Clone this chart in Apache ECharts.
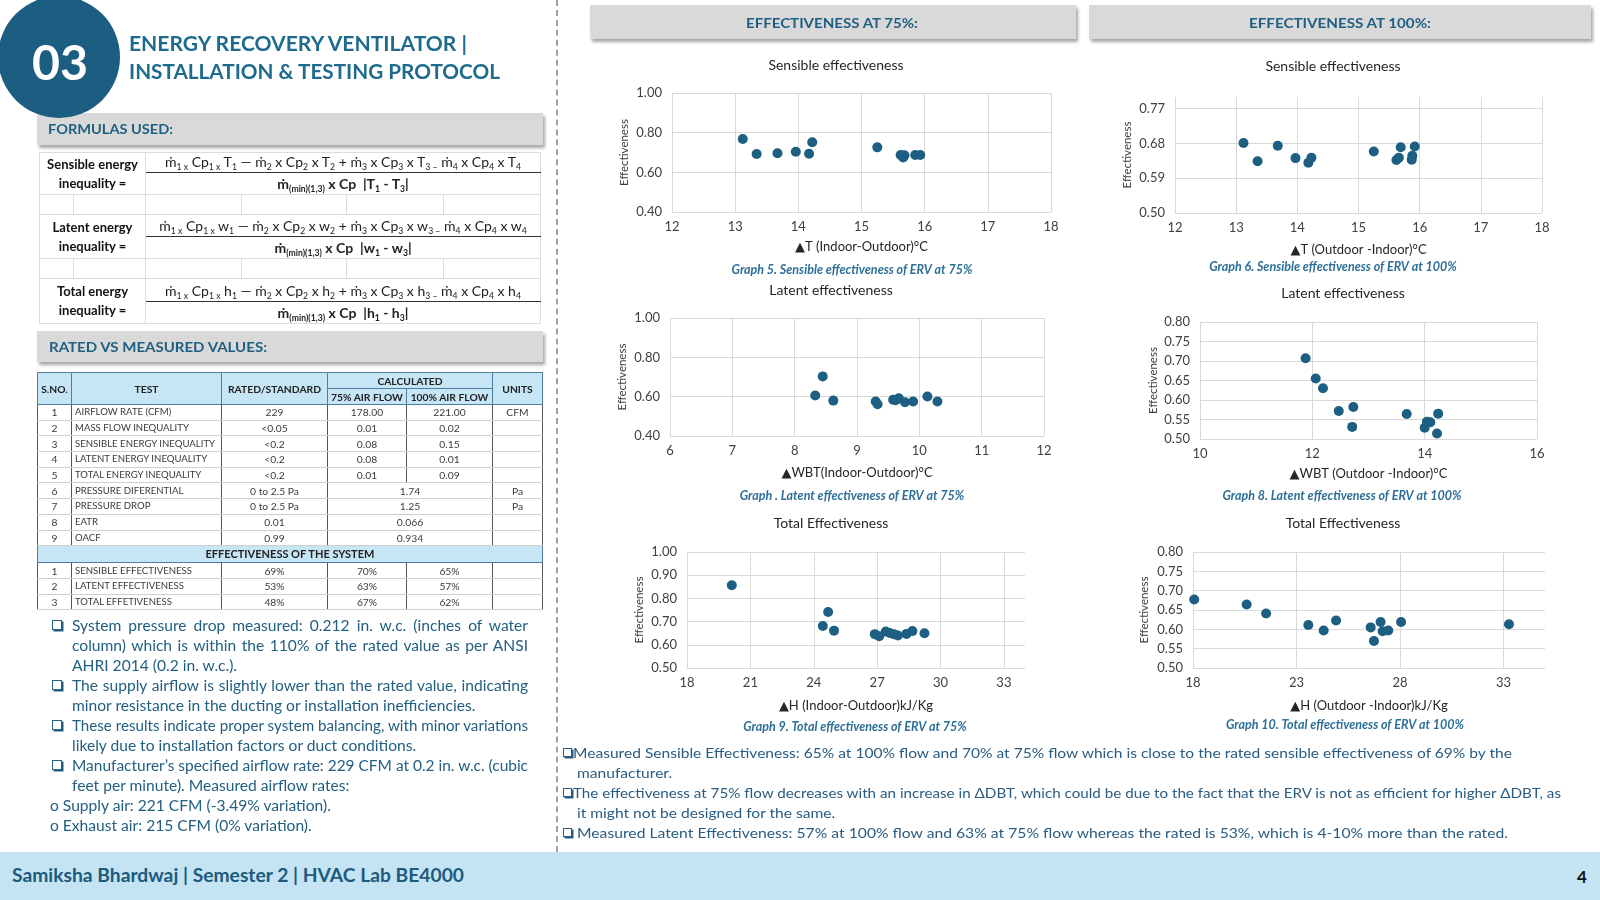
<!DOCTYPE html>
<html><head><meta charset="utf-8">
<script src="https://cdn.jsdelivr.net/npm/echarts@6/dist/echarts.min.js"></script>
<style>
body{margin:0;width:1600px;height:900px;position:relative;overflow:hidden;background:#fff;font-family:Lato,'DejaVu Sans',sans-serif;}
#chart{position:absolute;left:0;top:0;width:1600px;height:900px;z-index:0}
.t{position:absolute;white-space:nowrap;z-index:4}
.bar{position:absolute;background:#d9d9d9;box-shadow:2px 3px 3px rgba(0,0,0,.35);z-index:1}
#circle{position:absolute;left:-2px;top:-4px;width:122px;height:122px;border-radius:50%;background:#1b5e82;z-index:3}
.hd{font-weight:bold;color:#1f6b8e;font-size:21px;line-height:24px;height:24px}
.bt{font-weight:bold;color:#1f5f82;font-size:14px;line-height:20px;height:20px}
#t1{position:absolute;left:39px;top:152px;width:501px;border-collapse:collapse;table-layout:fixed;font-size:14px;color:#222;z-index:1}
#t1 td{border:1px solid #dcdcdc;padding:0;text-align:center;vertical-align:middle;white-space:nowrap;overflow:hidden}
#t1 td.lbl{font-weight:bold;line-height:19px;font-size:13px;color:#111}
#t1 td.num{border-bottom:1.6px solid #333;vertical-align:bottom;padding-bottom:2px}
#t1 td.den{font-weight:bold}
sub{font-size:0.62em;vertical-align:-0.3em;line-height:0}
#t2{position:absolute;left:37px;top:372px;width:505px;border-collapse:collapse;table-layout:fixed;font-size:10.3px;color:#3a3a3a;z-index:1;border:1.5px solid #4f7fa0}
#t2 th{background:#c6e6f5;font-weight:bold;color:#222;border:1px solid #4f7fa0;padding:0;height:15px;line-height:14px;white-space:nowrap;overflow:hidden}
#t2 td{border-left:1px solid #555;border-right:1px solid #555;border-top:1px solid #cfcfcf;border-bottom:1px solid #cfcfcf;padding:0;height:14.7px;line-height:14px;text-align:center;white-space:nowrap;overflow:hidden}
#t2 td.l{text-align:left;padding-left:3px;font-size:9.6px}
#t2 tr.sec td{background:#c6e6f5;font-weight:bold;color:#222;font-size:11px;height:16px;border:1px solid #4f7fa0}
.bl{position:absolute;font-size:15.6px;line-height:20px;height:20px;color:#225f80;white-space:nowrap;z-index:2}
.rb{position:absolute;font-size:14px;line-height:20px;height:20px;color:#2a5c82;white-space:nowrap;z-index:2}
.cb{position:absolute;width:8px;height:8px;border:1.3px solid #225f80;box-shadow:1.5px 1.5px 0 #225f80;background:#fff;z-index:2}
</style></head>
<body>
<div id="chart"></div>

<div id="circle"></div>
<div class="t" data-w="56" style="left:32px;top:38px;font-size:48px;line-height:48px;font-weight:bold;color:#fff;">03</div>
<div class="t hd" data-w="338" style="left:129px;top:31px;">ENERGY RECOVERY VENTILATOR |</div>
<div class="t hd" data-w="371" style="left:129px;top:59px;">INSTALLATION &amp; TESTING PROTOCOL</div>

<div class="bar" style="left:37px;top:113px;width:506px;height:32px;"></div>
<div class="t bt" data-w="125" style="left:48px;top:119px;">FORMULAS USED:</div>

<table id="t1">
<colgroup><col style="width:34px"><col style="width:72px"><col style="width:96px"><col style="width:105px"><col style="width:97px"><col style="width:97px"></colgroup>
<tr style="height:19px"><td colspan="2" rowspan="2" class="lbl">Sensible energy<br>inequality =</td><td colspan="4" class="num">ṁ<sub>1 x</sub> Cp<sub>1 x</sub> T<sub>1</sub> — ṁ<sub>2</sub> x Cp<sub>2</sub> x T<sub>2</sub> + ṁ<sub>3</sub> x Cp<sub>3</sub> x T<sub>3 –</sub> ṁ<sub>4</sub> x Cp<sub>4</sub> x T<sub>4</sub></td></tr>
<tr style="height:22px"><td colspan="4" class="den">ṁ<sub>(min)(1,3)</sub> x Cp &nbsp;|T<sub>1</sub> - T<sub>3</sub>|</td></tr>
<tr style="height:20px"><td></td><td></td><td></td><td></td><td></td><td></td></tr>
<tr style="height:22px"><td colspan="2" rowspan="2" class="lbl">Latent energy<br>inequality =</td><td colspan="4" class="num">ṁ<sub>1 x</sub> Cp<sub>1 x</sub> w<sub>1</sub> — ṁ<sub>2</sub> x Cp<sub>2</sub> x w<sub>2</sub> + ṁ<sub>3</sub> x Cp<sub>3</sub> x w<sub>3 –</sub> ṁ<sub>4</sub> x Cp<sub>4</sub> x w<sub>4</sub></td></tr>
<tr style="height:22px"><td colspan="4" class="den">ṁ<sub>(min)(1,3)</sub> x Cp &nbsp;|w<sub>1</sub> - w<sub>3</sub>|</td></tr>
<tr style="height:20px"><td></td><td></td><td></td><td></td><td></td><td></td></tr>
<tr style="height:23px"><td colspan="2" rowspan="2" class="lbl">Total energy<br>inequality =</td><td colspan="4" class="num">ṁ<sub>1 x</sub> Cp<sub>1 x</sub> h<sub>1</sub> — ṁ<sub>2</sub> x Cp<sub>2</sub> x h<sub>2</sub> + ṁ<sub>3</sub> x Cp<sub>3</sub> x h<sub>3 –</sub> ṁ<sub>4</sub> x Cp<sub>4</sub> x h<sub>4</sub></td></tr>
<tr style="height:22px"><td colspan="4" class="den">ṁ<sub>(min)(1,3)</sub> x Cp &nbsp;|h<sub>1</sub> - h<sub>3</sub>|</td></tr>
</table>

<div class="bar" style="left:37px;top:331px;width:506px;height:31px;"></div>
<div class="t bt" data-w="218" style="left:49px;top:337px;">RATED VS MEASURED VALUES:</div>

<table id="t2">
<colgroup><col style="width:34px"><col style="width:150px"><col style="width:106px"><col style="width:79px"><col style="width:86px"><col style="width:50px"></colgroup>
<tr><th rowspan="2">S.NO.</th><th rowspan="2">TEST</th><th rowspan="2">RATED/STANDARD</th><th colspan="2">CALCULATED</th><th rowspan="2">UNITS</th></tr>
<tr><th>75% AIR FLOW</th><th>100% AIR FLOW</th></tr>
<tr><td>1</td><td class="l">AIRFLOW RATE (CFM)</td><td>229</td><td>178.00</td><td>221.00</td><td>CFM</td></tr>
<tr><td>2</td><td class="l">MASS FLOW INEQUALITY</td><td>&lt;0.05</td><td>0.01</td><td>0.02</td><td></td></tr>
<tr><td>3</td><td class="l">SENSIBLE ENERGY INEQUALITY</td><td>&lt;0.2</td><td>0.08</td><td>0.15</td><td></td></tr>
<tr><td>4</td><td class="l">LATENT ENERGY INEQUALITY</td><td>&lt;0.2</td><td>0.08</td><td>0.01</td><td></td></tr>
<tr><td>5</td><td class="l">TOTAL ENERGY INEQUALITY</td><td>&lt;0.2</td><td>0.01</td><td>0.09</td><td></td></tr>
<tr><td>6</td><td class="l">PRESSURE DIFERENTIAL</td><td>0 to 2.5 Pa</td><td colspan="2">1.74</td><td>Pa</td></tr>
<tr><td>7</td><td class="l">PRESSURE DROP</td><td>0 to 2.5 Pa</td><td colspan="2">1.25</td><td>Pa</td></tr>
<tr><td>8</td><td class="l">EATR</td><td>0.01</td><td colspan="2">0.066</td><td></td></tr>
<tr><td>9</td><td class="l">OACF</td><td>0.99</td><td colspan="2">0.934</td><td></td></tr>
<tr class="sec"><td colspan="6">EFFECTIVENESS OF THE SYSTEM</td></tr>
<tr><td>1</td><td class="l">SENSIBLE EFFECTIVENESS</td><td>69%</td><td>70%</td><td>65%</td><td></td></tr>
<tr><td>2</td><td class="l">LATENT EFFECTIVENESS</td><td>53%</td><td>63%</td><td>57%</td><td></td></tr>
<tr><td>3</td><td class="l">TOTAL EFFETIVENESS</td><td>48%</td><td>67%</td><td>62%</td><td></td></tr>
</table>

<!-- left bullets -->
<div class="cb" style="left:52px;top:620px;"></div>
<div class="bl" data-j="456" style="left:72px;top:615px;">System pressure drop measured: 0.212 in. w.c. (inches of water</div>
<div class="bl" data-j="456" style="left:72px;top:635px;">column) which is within the 110% of the rated value as per ANSI</div>
<div class="bl" style="left:72px;top:655px;">AHRI 2014 (0.2 in. w.c.).</div>
<div class="cb" style="left:52px;top:680px;"></div>
<div class="bl" data-j="456" style="left:72px;top:675px;">The supply airflow is slightly lower than the rated value, indicating</div>
<div class="bl" style="left:72px;top:695px;">minor resistance in the ducting or installation inefficiencies.</div>
<div class="cb" style="left:52px;top:720px;"></div>
<div class="bl" data-j="456" style="left:72px;top:715px;">These results indicate proper system balancing, with minor variations</div>
<div class="bl" style="left:72px;top:735px;">likely due to installation factors or duct conditions.</div>
<div class="cb" style="left:52px;top:760px;"></div>
<div class="bl" data-j="456" style="left:72px;top:755px;">Manufacturer’s specified airflow rate: 229 CFM at 0.2 in. w.c. (cubic</div>
<div class="bl" style="left:72px;top:775px;">feet per minute). Measured airflow rates:</div>
<div class="bl" style="left:50px;top:795px;">o Supply air: 221 CFM (-3.49% variation).</div>
<div class="bl" style="left:50px;top:815px;">o Exhaust air: 215 CFM (0% variation).</div>

<!-- divider -->
<div style="position:absolute;left:556px;top:0;height:852px;border-left:2px dashed #a0a0a0;z-index:1"></div>

<!-- right headers -->
<div class="bar" style="left:590px;top:5px;width:486px;height:34px;"></div>
<div class="t bt" data-w="172" style="left:746px;top:13px;">EFFECTIVENESS AT 75%:</div>
<div class="bar" style="left:1089px;top:5px;width:502px;height:34px;"></div>
<div class="t bt" data-w="182" style="left:1249px;top:13px;">EFFECTIVENESS AT 100%:</div>

<!-- right bottom text -->
<div class="cb" style="left:563px;top:748px;width:7px;height:7px;border-color:#2a5c82;box-shadow:1.5px 1.5px 0 #2a5c82"></div>
<div class="rb" id="rb1" data-w="939" style="left:573px;top:743px;">Measured Sensible Effectiveness: 65% at 100% flow and 70% at 75% flow which is close to the rated sensible effectiveness of 69% by the</div>
<div class="rb rbs" style="left:577px;top:763px;">manufacturer.</div>
<div class="cb" style="left:563px;top:788px;width:7px;height:7px;border-color:#2a5c82;box-shadow:1.5px 1.5px 0 #2a5c82"></div>
<div class="rb" data-w="988" style="left:573px;top:783px;">The effectiveness at 75% flow decreases with an increase in ΔDBT, which could be due to the fact that the ERV is not as efficient for higher ΔDBT, as</div>
<div class="rb rbs" style="left:577px;top:803px;">it might not be designed for the same.</div>
<div class="cb" style="left:563px;top:828px;width:7px;height:7px;border-color:#2a5c82;box-shadow:1.5px 1.5px 0 #2a5c82"></div>
<div class="rb" data-w="931" style="left:577px;top:823px;">Measured Latent Effectiveness: 57% at 100% flow and 63% at 75% flow whereas the rated is 53%, which is 4-10% more than the rated.</div>

<!-- footer -->
<div style="position:absolute;left:0;top:852px;width:1600px;height:48px;background:#c4e4f4;z-index:1"></div>
<div class="t" data-w="452" style="left:12px;top:863px;font-size:19.5px;line-height:24px;font-weight:bold;color:#1d5a7c;">Samiksha Bhardwaj | Semester 2 | HVAC Lab BE4000</div>
<div class="t" style="left:1577px;top:866px;font-size:17px;line-height:22px;font-weight:bold;color:#111;">4</div>

<script>
// ---------- DATA ----------
const chartTitles = ['Sensible effectiveness', 'Sensible effectiveness', 'Latent effectiveness', 'Latent effectiveness', 'Total Effectiveness', 'Total Effectiveness'];
const xAxisNames = ['▲T (Indoor-Outdoor)°C', '▲T (Outdoor -Indoor)°C', '▲WBT(Indoor-Outdoor)°C', '▲WBT (Outdoor -Indoor)°C', '▲H (Indoor-Outdoor)kJ/Kg', '▲H (Outdoor -Indoor)kJ/Kg'];
const yAxisName = 'Effectiveness';
const captions = ['Graph 5. Sensible effectiveness of ERV at 75%', 'Graph 6. Sensible effectiveness of ERV at 100%', 'Graph . Latent effectiveness of ERV at 75%', 'Graph 8. Latent effectiveness of ERV at 100%', 'Graph 9. Total effectiveness of ERV at 75%', 'Graph 10. Total effectiveness of ERV at 100%'];

// axis ranges [min, max, interval]
const xTicks = [[12, 18, 1], [12, 18, 1], [6, 12, 1], [10, 16, 2], [18, 34, 3], [18, 35, 5]];
const yTicks = [[0.4, 1.0, 0.2], [0.5, 0.8, 0.09], [0.4, 1.0, 0.2], [0.5, 0.8, 0.05], [0.5, 1.0, 0.1], [0.5, 0.8, 0.05]];

const sens75X = [13.12, 13.34, 13.67, 13.96, 14.17, 14.22, 15.25, 15.62, 15.66, 15.68, 15.85, 15.93];
const sens75Y = [0.768, 0.692, 0.696, 0.704, 0.694, 0.752, 0.726, 0.687, 0.675, 0.686, 0.687, 0.687];

const sens100X = [13.12, 13.35, 13.68, 13.97, 14.18, 14.23, 15.25, 15.62, 15.66, 15.69, 15.87, 15.88, 15.92];
const sens100Y = [0.681, 0.634, 0.674, 0.642, 0.630, 0.643, 0.659, 0.637, 0.643, 0.670, 0.638, 0.648, 0.672];

const lat75X = [8.33, 8.45, 8.62, 9.30, 9.33, 9.58, 9.62, 9.67, 9.77, 9.90, 10.13, 10.29];
const lat75Y = [0.606, 0.703, 0.580, 0.575, 0.561, 0.584, 0.582, 0.592, 0.572, 0.575, 0.601, 0.575];

const lat100X = [11.88, 12.06, 12.19, 12.47, 12.73, 12.71, 13.68, 14.00, 14.04, 14.10, 14.24, 14.22];
const lat100Y = [0.707, 0.655, 0.630, 0.572, 0.582, 0.531, 0.564, 0.529, 0.544, 0.543, 0.565, 0.514];

const tot75X = [20.12, 24.43, 24.68, 24.96, 26.89, 27.10, 27.41, 27.60, 27.79, 27.98, 28.39, 28.67, 29.24];
const tot75Y = [0.857, 0.681, 0.741, 0.661, 0.646, 0.637, 0.657, 0.651, 0.646, 0.640, 0.647, 0.659, 0.650];

const tot100X = [18.06, 20.59, 21.53, 23.57, 24.31, 24.91, 26.58, 26.74, 27.06, 27.16, 27.43, 28.05, 33.26];
const tot100Y = [0.677, 0.664, 0.641, 0.611, 0.597, 0.623, 0.605, 0.570, 0.619, 0.595, 0.597, 0.619, 0.613];

// ---------- LAYOUT ----------
const layout = [
  {grid: {left: 672, top: 93, width: 379, height: 119}, title: [836, 65], cap: [852, 270], xGap: 28, yGap: 42},
  {grid: {left: 1175, top: 97, width: 367, height: 116}, title: [1333, 66], cap: [1333, 267], xGap: 30, yGap: 42},
  {grid: {left: 670, top: 318, width: 374, height: 118}, title: [831, 290], cap: [852, 496], xGap: 30, yGap: 42},
  {grid: {left: 1200, top: 322, width: 337, height: 117}, title: [1343, 293], cap: [1342, 496], xGap: 28, yGap: 41},
  {grid: {left: 687, top: 552, width: 338, height: 116}, title: [831, 523], cap: [855, 727], xGap: 31, yGap: 42},
  {grid: {left: 1193, top: 552, width: 352, height: 116}, title: [1343, 523], cap: [1345, 725], xGap: 31, yGap: 43}
];
const FONT = 'Lato, "DejaVu Sans", sans-serif';
const DOT = '#1d5f83';
const xsAll = [sens75X, sens100X, lat75X, lat100X, tot75X, tot100X];
const ysAll = [sens75Y, sens100Y, lat75Y, lat100Y, tot75Y, tot100Y];

function endsOnTick(t) { const n = (t[1] - t[0]) / t[2]; return Math.abs(n - Math.round(n)) < 1e-6; }

const chart = echarts.init(document.getElementById('chart'), null, {renderer: 'canvas'});
const option = {
  animation: false,
  textStyle: {fontFamily: FONT},
  grid: layout.map(L => Object.assign({containLabel: false, outerBoundsMode: 'none'}, L.grid)),
  xAxis: layout.map((L, i) => ({
    type: 'value', gridIndex: i, min: xTicks[i][0], max: xTicks[i][1], interval: xTicks[i][2],
    name: xAxisNames[i], nameLocation: 'middle', nameGap: L.xGap,
    nameTextStyle: {fontSize: 13, color: '#262626', fontFamily: FONT},
    axisLine: {show: false}, axisTick: {show: false},
    axisLabel: {fontSize: 13, color: '#404040', margin: 8, showMaxLabel: endsOnTick(xTicks[i]), fontFamily: FONT},
    splitLine: {show: true, showMaxLine: endsOnTick(xTicks[i]), lineStyle: {color: '#d9d9d9', width: 1}}
  })),
  yAxis: layout.map((L, i) => ({
    type: 'value', gridIndex: i, min: yTicks[i][0], max: yTicks[i][1], interval: yTicks[i][2],
    name: yAxisName, nameLocation: 'middle', nameGap: L.yGap, nameRotate: 90,
    nameTextStyle: {fontSize: 11.5, color: '#404040', fontFamily: FONT},
    axisLine: {show: false}, axisTick: {show: false},
    axisLabel: {fontSize: 13, color: '#404040', margin: 10, showMaxLabel: endsOnTick(yTicks[i]), fontFamily: FONT,
      formatter: v => v.toFixed(2)},
    splitLine: {show: true, showMaxLine: endsOnTick(yTicks[i]), lineStyle: {color: '#d9d9d9', width: 1}}
  })),
  series: layout.map((L, i) => ({
    type: 'scatter', xAxisIndex: i, yAxisIndex: i, symbolSize: 10,
    itemStyle: {color: DOT, opacity: 1},
    data: xsAll[i].map((x, k) => [x, ysAll[i][k]])
  })),
  graphic: layout.flatMap((L, i) => [
    {type: 'text', x: L.title[0], y: L.title[1], style: {text: chartTitles[i], align: 'center', verticalAlign: 'middle', fontSize: 14, fontFamily: FONT, fill: '#262626'}},
    {type: 'text', x: L.cap[0], y: L.cap[1], style: {text: captions[i], align: 'center', verticalAlign: 'middle', fontSize: 12.5, fontWeight: 'bold', fontStyle: 'italic', fontFamily: FONT, fill: '#2e6f98'}}
  ])
};
chart.setOption(option);

// ---------- text fitting ----------
function fitText() {
  document.querySelectorAll('[data-w]').forEach(el => {
    el.style.transform = 'none';
    const w = parseFloat(el.dataset.w);
    const nat = el.getBoundingClientRect().width;
    el.style.transformOrigin = 'left center';
    el.style.transform = 'scaleX(' + (w / nat) + ')';
  });
  document.querySelectorAll('[data-j]').forEach(el => {
    el.style.wordSpacing = '0px'; el.style.transform = 'none';
    const w = parseFloat(el.dataset.j);
    const nat = el.getBoundingClientRect().width;
    const spaces = (el.textContent.match(/ /g) || []).length;
    if (nat < w && spaces > 0) {
      el.style.wordSpacing = ((w - nat) / spaces) + 'px';
    } else {
      el.style.transformOrigin = 'left center';
      el.style.transform = 'scaleX(' + (w / nat) + ')';
    }
  });
  // short continuation lines use the same condensing as the first note line
  const ref = document.getElementById('rb1');
  const s = ref.style.transform.match(/scaleX\(([^)]+)\)/);
  const sc = s ? parseFloat(s[1]) : 1;
  document.querySelectorAll('.rbs').forEach(el => { el.style.transformOrigin = 'left center'; el.style.transform = 'scaleX(' + sc + ')'; });
}
fitText();
if (document.fonts && document.fonts.ready) document.fonts.ready.then(fitText);
</script>
</body></html>
